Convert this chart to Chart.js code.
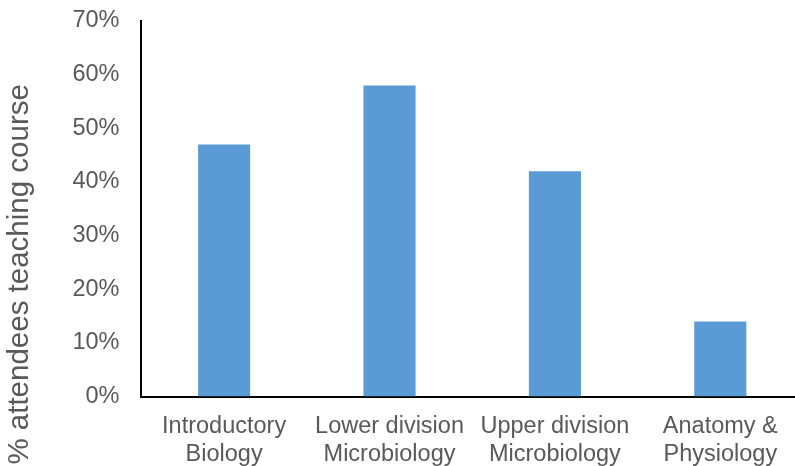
<!DOCTYPE html>
<html>
<head>
<meta charset="utf-8">
<script src="https://cdn.jsdelivr.net/npm/chart.js@4/dist/chart.umd.min.js"></script>
<style>
    html, body { margin: 0; padding: 0; background: #fff; overflow: hidden; }
    #wrap { width: 803px; height: 466px; position: relative; }
</style>
</head>
<body>
<div id="wrap"><canvas id="courseChart"></canvas></div>
<script>
const categories = [
    ['Introductory', 'Biology'],
    ['Lower division', 'Microbiology'],
    ['Upper division', 'Microbiology'],
    ['Anatomy &', 'Physiology']
];
const percentTeaching = [47, 58, 42, 14];
const yTicks = [0, 10, 20, 30, 40, 50, 60, 70];

document.addEventListener('DOMContentLoaded', () => {
    const labelFont = { family: 'Liberation Sans, Arial, sans-serif', size: 23.5 };

    new Chart(document.getElementById('courseChart'), {
        type: 'bar',
        data: {
            labels: categories,
            datasets: [{
                data: percentTeaching,
                backgroundColor: '#5B9BD5',
                barPercentage: 0.315,
                categoryPercentage: 1
            }]
        },
        options: {
            responsive: true,
            maintainAspectRatio: false,
            animation: false,
            layout: { padding: { top: 21, right: 0, left: 2, bottom: -19 } },
            plugins: {
                legend: { display: false },
                tooltip: { enabled: false }
            },
            scales: {
                x: {
                    grid: { display: false, drawTicks: false },
                    border: { display: true, color: '#000', width: 2 },
                    ticks: { color: '#595959', font: labelFont, padding: 16, maxRotation: 0 }
                },
                y: {
                    min: 0,
                    max: yTicks[yTicks.length - 1],
                    afterBuildTicks: axis => { axis.ticks = yTicks.map(v => ({ value: v })); },
                    //..let the 70% label poke above the plot like the original
                    afterFit: axis => { axis.paddingTop = 0; },
                    grid: { display: false, drawTicks: false },
                    border: { display: true, color: '#000', width: 2 },
                    ticks: {
                        color: '#595959',
                        font: labelFont,
                        padding: 22,
                        callback: v => v + '%'
                    },
                    title: {
                        display: true,
                        // trailing spaces push the centred title down, as in the original
                        text: '% attendees teaching course' + ' '.repeat(16),
                        color: '#595959',
                        font: { family: 'Liberation Sans, Arial, sans-serif', size: 29.5 },
                        padding: { top: 0, bottom: 13 }
                    }
                }
            }
        }
    });
});
</script>
</body>
</html>
